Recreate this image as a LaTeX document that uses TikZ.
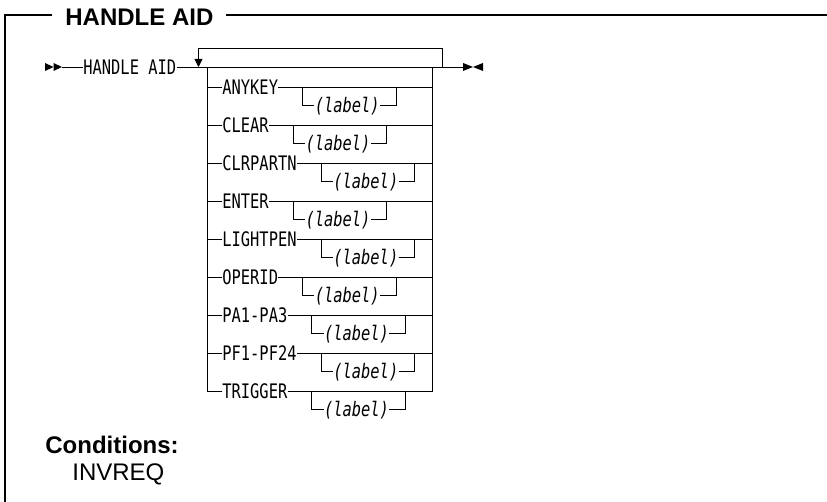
\documentclass[tikz,border=0pt]{standalone}
\usepackage{fontspec}
\setmainfont{Liberation Sans}
\newfontfamily\synfont[FakeStretch=0.77]{DejaVu Sans Mono}
\usetikzlibrary{arrows.meta, positioning, calc}

\begin{document}
\begin{tikzpicture}[
    x=1pt, y=-1pt,
    line width=0.8pt,
    boxline/.style={line width=1.5pt},
    heading/.style={font=\fontsize{24}{28}\selectfont\bfseries, inner sep=0pt,
                    text height=17.2pt, text depth=0pt, anchor=west},
    condtxt/.style={font=\fontsize{24}{28}\selectfont, inner sep=0pt,
                    text height=17.2pt, text depth=0pt, anchor=west},
    kw/.style={font=\fontsize{20}{23}\synfont, inner sep=0pt,
               text height=14.6pt, text depth=0pt, anchor=west},
    lbl/.style={kw, font=\fontsize{20}{23}\synfont\itshape},
    arr/.style={-{Triangle[length=8pt, width=8pt]}},
]
\useasboundingbox (0,0) rectangle (827,502);

% frame and title
\node[heading] (title) at (65,16.5) {HANDLE AID};
\draw[boxline] (52,15) -- (5,15) -- (5,502);
\draw[boxline] (226,15) -- (827,15);

% main line
\coordinate (start) at (45,67);
\coordinate (stop) at (463,67);
\fill (45,63) -- (53.5,67) -- (45,71) -- cycle;
\fill (53.5,63) -- (62,67) -- (53.5,71) -- cycle;
\node[kw] (handle) at (83,67) {HANDLE AID};
\draw (62,67) -- (handle.west);
\draw (handle.east) -- (stop);
\fill (463,63) -- (473,67) -- (463,71) -- cycle;
\fill (483,63) -- (473,67) -- (483,71) -- cycle;

% repeat loop
\coordinate (rpL) at (198.5,48);
\coordinate (rpR) at (442,48);
\draw[arr] (rpR |- handle) -- (rpR) -- (rpL) -- (rpL |- handle);

% choice stack
\coordinate (stL) at (207,67);
\coordinate (stR) at (432,67);
\foreach \name [count=\i] in {ANYKEY, CLEAR, CLRPARTN, ENTER, LIGHTPEN,
                              OPERID, PA1-PA3, PF1-PF24, TRIGGER} {
  \node[kw] (kw\i) at (222, 49+38*\i) {\name};
  \coordinate[right=24pt of kw\i.east] (bl\i);
  \node[lbl, below right=18pt and 12pt of bl\i.center, anchor=west] (lb\i) {(label)};
  \coordinate[right=16pt of lb\i.east] (br\i);
  \draw (stL |- kw\i) -- (kw\i.west);
  \draw (kw\i.east) -- (kw\i -| stR);
  \draw (bl\i) |- (lb\i.west);
  \draw (lb\i.east) -| (br\i |- kw\i);
}
\draw (stL) -- (stL |- kw9) -- (kw9.west);
\draw (stR) -- (stR |- kw9) -- (kw9.east);

% conditions
\node[heading] (cond) at (45,445) {Conditions:};
\node[condtxt, below right=27pt and 27pt of cond.west, anchor=west] (invreq) {INVREQ};

\end{tikzpicture}
\end{document}
